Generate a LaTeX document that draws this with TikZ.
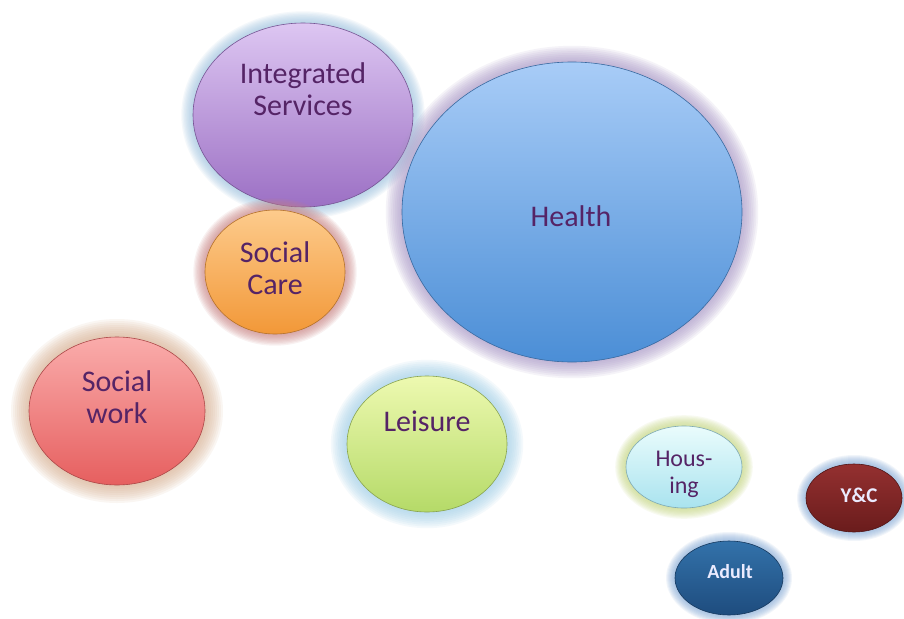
\documentclass[tikz,border=0pt]{standalone}
\usepackage{fontspec}
\setmainfont{Carlito}
\usetikzlibrary{shapes.geometric}
\definecolor{txtpurple}{HTML}{552466}
\definecolor{isTop}{HTML}{DDC6F2}\definecolor{isBot}{HTML}{9C70C4}\definecolor{isHalo}{HTML}{9EC3E0}
\definecolor{heTop}{HTML}{A8CCF7}\definecolor{heBot}{HTML}{4B8ED6}\definecolor{heHalo}{HTML}{A796C6}
\definecolor{scTop}{HTML}{FDCB8C}\definecolor{scBot}{HTML}{F29838}\definecolor{scHalo}{HTML}{C98080}
\definecolor{swTop}{HTML}{FAACAB}\definecolor{swBot}{HTML}{E65F5F}\definecolor{swHalo}{HTML}{D8B090}
\definecolor{leTop}{HTML}{EDF9B0}\definecolor{leBot}{HTML}{B5DA68}\definecolor{leHalo}{HTML}{9FCFE8}
\definecolor{hoTop}{HTML}{EAFCFC}\definecolor{hoBot}{HTML}{A9E3EF}\definecolor{hoHalo}{HTML}{C4D67E}
\definecolor{ycTop}{HTML}{943030}\definecolor{ycBot}{HTML}{6A1C1C}\definecolor{ycHalo}{HTML}{86ACD8}
\definecolor{adTop}{HTML}{3372AA}\definecolor{adBot}{HTML}{1E4C7E}\definecolor{adHalo}{HTML}{86ACD8}
\tikzset{
  bubble/.style={ellipse, inner sep=0pt, line width=0.6pt},
  txt/.style={align=center, text=txtpurple, font=\fontsize{30}{32}\selectfont},
  smalltxt/.style={align=center, text=txtpurple, font=\fontsize{24}{27}\selectfont},
  whitetxt/.style={align=center, text=white!92!blue, font=\bfseries\fontsize{21}{24}\selectfont},
}
% #1 name, #2 x, #3 y, #4 rx, #5 ry, #6 colour prefix, #7 halo step
\newcommand\mybubble[7]{%
  \foreach \k in {1,...,9}{%
    \fill[#6Halo, opacity=0.11] (#2,#3) ellipse [x radius={#4pt+\k*#7pt}, y radius={#5pt+\k*#7pt}];
  }%
  \node[bubble, minimum width={2*#4pt}, minimum height={2*#5pt},
        top color=#6Top, bottom color=#6Bot, draw=#6Bot!75!black] (#1) at (#2,#3) {};
}
\begin{document}
\begin{tikzpicture}[x=1pt,y=-1pt]
\useasboundingbox (0,0) rectangle (904,618);
\fill[white] (0,0) rectangle (904,618);
\mybubble{is}{303}{115}{110}{92}{is}{1.3}
\mybubble{he}{572}{212}{170}{150}{he}{1.8}
\mybubble{sc}{275}{272}{70}{62}{sc}{1.3}
\mybubble{sw}{117}{411}{88}{74}{sw}{2.0}
\mybubble{le}{427}{444}{80}{68}{le}{1.8}
\mybubble{ho}{684}{467}{58}{41}{ho}{1.2}
\mybubble{yc}{854}{498}{48}{34}{yc}{1.0}
\mybubble{ad}{729}{578}{54}{37}{ad}{1.0}
\node[txt] (ist) at (303,89) {Integrated\\Services};
\node[txt] (het) at (571,216) {Health};
\node[txt] (sct) at (275,268) {Social\\Care};
\node[txt] (swt) at (117,397) {Social\\work};
\node[txt] (let) at (427,421) {Leisure};
\node[smalltxt] (hot) at (684,474) {Hous-\\ing};
\node[whitetxt] (yct) at (859,495) {Y\&C};
\node[whitetxt, font=\bfseries\fontsize{20}{24}\selectfont] (adt) at (730,572) {Adult};
\end{tikzpicture}
\end{document}
